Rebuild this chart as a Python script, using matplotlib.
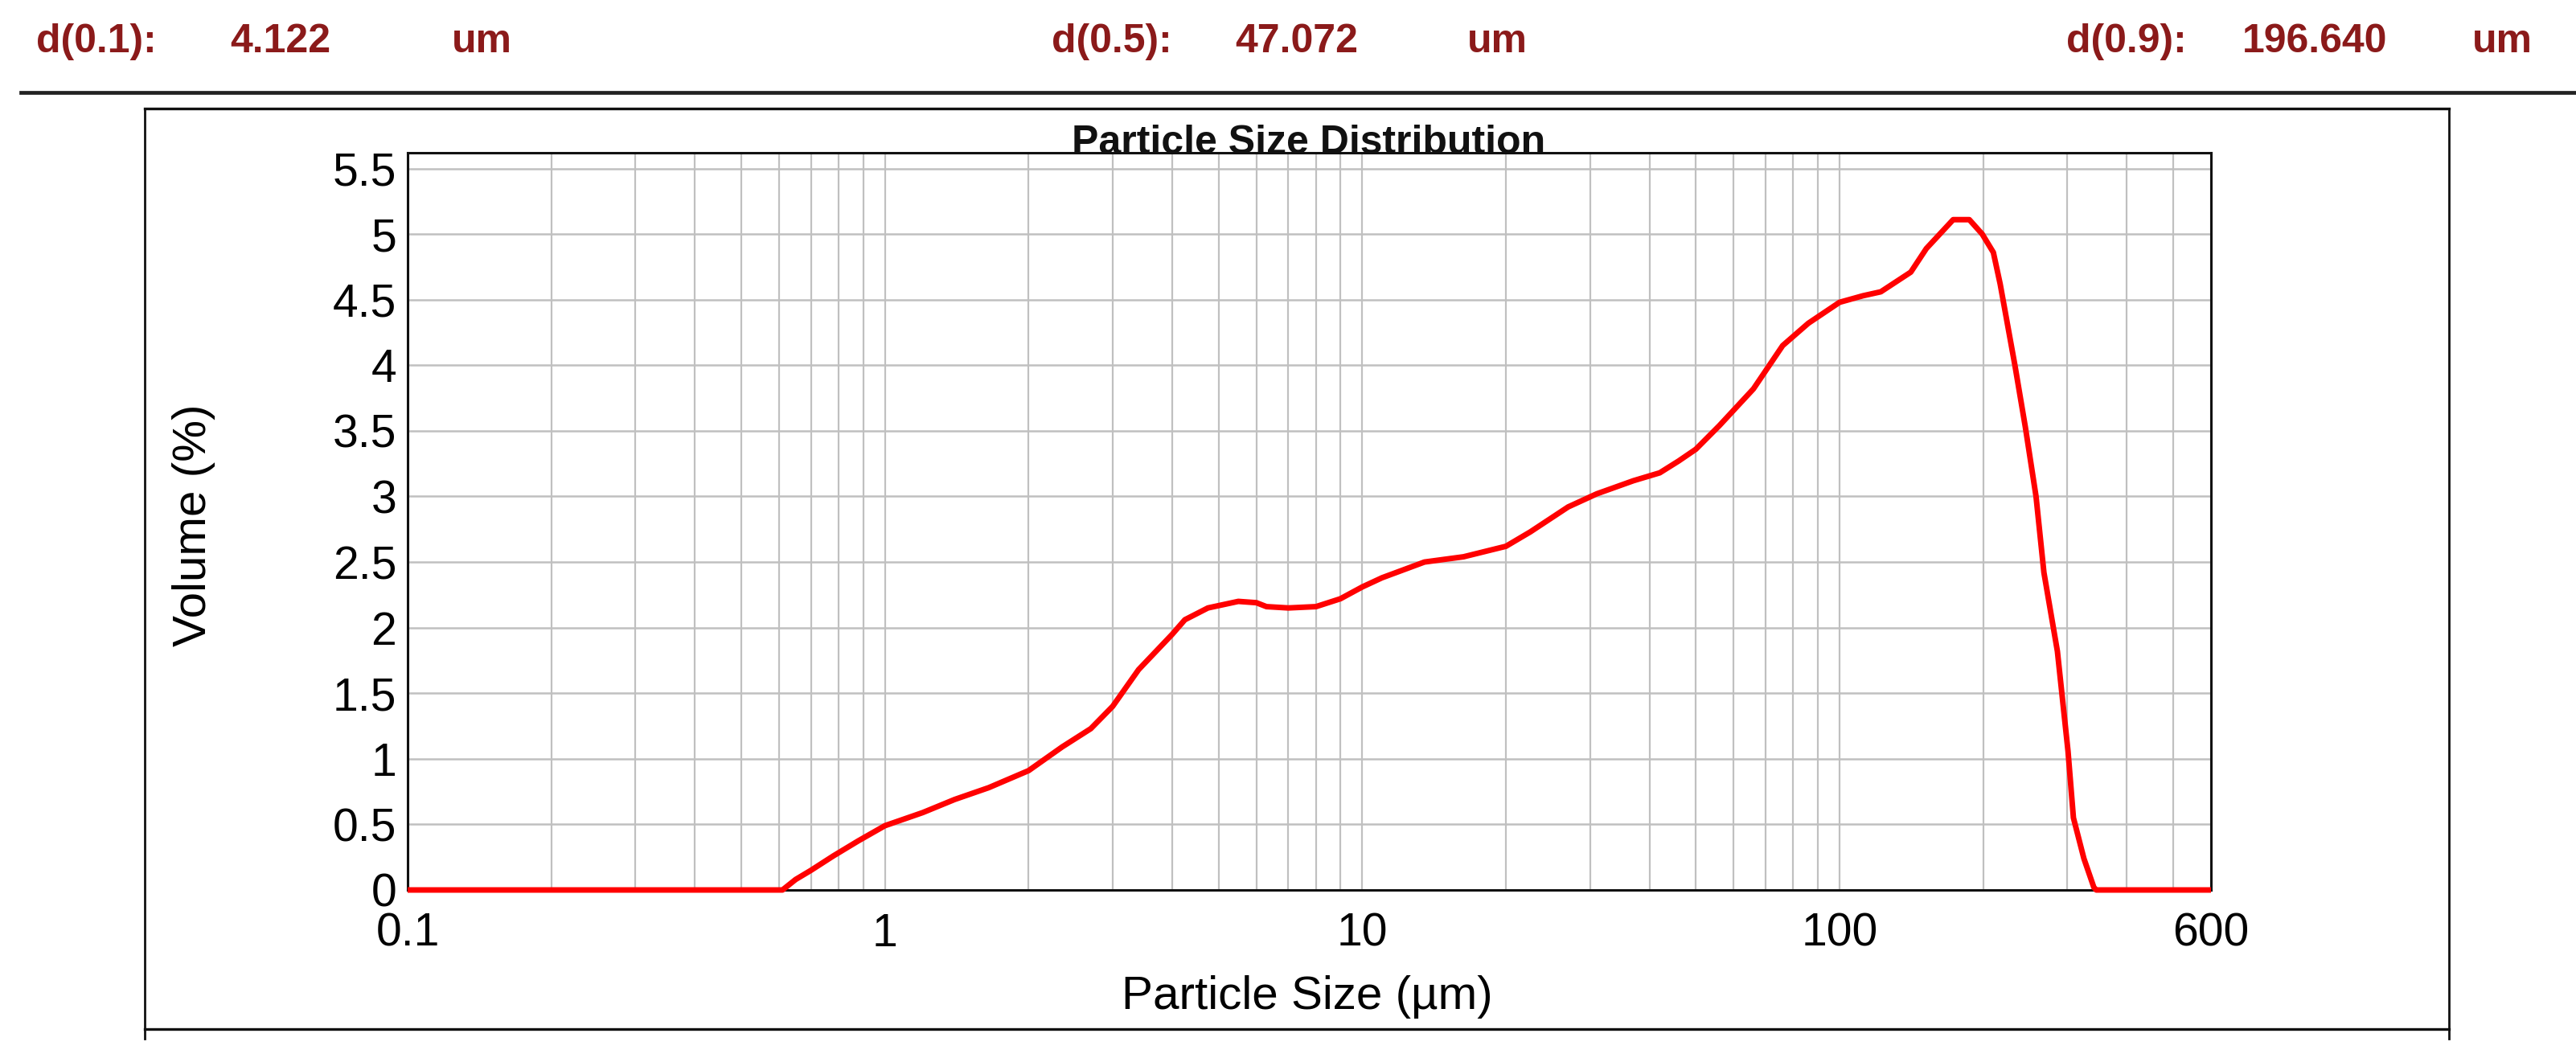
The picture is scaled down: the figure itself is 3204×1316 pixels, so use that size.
import matplotlib
matplotlib.use("Agg")
import matplotlib.pyplot as plt
from matplotlib.lines import Line2D

# ===============================
# DATA
# ===============================
particle_size = [0.1, 0.58, 0.61, 0.65, 0.70, 0.78, 0.88, 1.0, 1.2, 1.4, 1.65,
                 2.0, 2.35, 2.7, 3.0, 3.4, 4.0, 4.25, 4.75, 5.5, 6.0, 6.3, 7.0,
                 8.0, 9.0, 10, 11, 13.5, 16.3, 20, 22.5, 27, 31, 37, 42, 46, 50,
                 56, 66, 76, 86, 100, 112, 122, 141, 152, 173, 187, 199, 210,
                 217, 233, 245, 258, 268, 286, 301, 309, 325, 341, 345, 600]
volume_pct = [0, 0, 0.0, 0.08, 0.15, 0.26, 0.375, 0.49, 0.59, 0.69, 0.78,
              0.91, 1.09, 1.23, 1.40, 1.68, 1.95, 2.06, 2.15, 2.20, 2.19, 2.16, 2.15,
              2.16, 2.22, 2.31, 2.38, 2.50, 2.54, 2.62, 2.73, 2.92, 3.02, 3.12, 3.18, 3.27, 3.36,
              3.54, 3.82, 4.15, 4.32, 4.48, 4.53, 4.56, 4.71, 4.89, 5.11, 5.11, 5.00, 4.86,
              4.62, 4.00, 3.53, 3.00, 2.42, 1.82, 1.06, 0.55, 0.24, 0.02, 0, 0]

x_ticks = [0.1, 1, 10, 100, 600]
x_tick_labels = ["0.1", "1", "10", "100", "600"]
y_ticks = [0, 0.5, 1, 1.5, 2, 2.5, 3, 3.5, 4, 4.5, 5, 5.5]
y_tick_labels = ["0", "0.5", "1", "1.5", "2", "2.5", "3", "3.5", "4", "4.5", "5", "5.5"]

header_labels = ["d(0.1):", "d(0.5):", "d(0.9):"]
header_values = ["4.122", "47.072", "196.640"]
header_unit = "um"

# ===============================
# FIGURE LAYOUT (pixel helpers)
# ===============================
W, H = 3204, 1316
plt.rcParams['font.family'] = ['Liberation Sans', 'DejaVu Sans']
fig = plt.figure(figsize=(W / 100, H / 100), dpi=100)


def fx(px):
    return px / W


def fy(py):
    return 1 - py / H


dark_red = '#8b1a1a'

# header line with d-values
header_x = [(45, 286, 562), (1308, 1536, 1825), (2570, 2789, 3075)]
for lab, val, (x1, x2, x3) in zip(header_labels, header_values, header_x):
    for x, s in [(x1, lab), (x2, val), (x3, header_unit)]:
        fig.text(fx(x), fy(52), s, color=dark_red, fontsize=36,
                 fontweight='bold', va='center', ha='left')

# rule under the header
fig.add_artist(Line2D([fx(26), 1.0], [fy(115), fy(115)], color='#222222', lw=3.4))

# frame around the chart
fig.add_artist(Line2D([fx(180), fx(3046)], [fy(135), fy(135)], color='#111111', lw=2.4))
fig.add_artist(Line2D([fx(180), fx(3046)], [fy(1280), fy(1280)], color='#111111', lw=2.4))
fig.add_artist(Line2D([fx(180), fx(180)], [fy(135), fy(1292)], color='#111111', lw=2.0))
fig.add_artist(Line2D([fx(3046), fx(3046)], [fy(135), fy(1292)], color='#111111', lw=2.0))

# ===============================
# PLOT
# ===============================
ax = fig.add_axes([fx(507), fy(1107), fx(2750) - fx(507), (1107 - 190) / H])
ax.set_facecolor('white')

ax.plot(particle_size, volume_pct, color='#ff0000', lw=5.0, clip_on=False,
        zorder=3, solid_joinstyle='round', solid_capstyle='butt')

ax.set_xscale('log')
ax.set_xlim(0.1, 600)
ax.set_ylim(0, 5.62)

minor_x = [m * 10.0 ** e for e in range(-1, 3) for m in range(2, 10) if m * 10.0 ** e < 600]
ax.set_xticks(x_ticks)
ax.set_xticklabels(x_tick_labels)
ax.set_xticks(minor_x, minor=True)
ax.set_yticks(y_ticks)
ax.set_yticklabels(y_tick_labels)

ax.grid(True, which='both', axis='x', color='#c0c0c0', lw=1.6)
ax.grid(True, which='major', axis='y', color='#c0c0c0', lw=1.8)
ax.set_axisbelow(True)

ax.tick_params(which='both', length=0)
ax.tick_params(axis='y', labelsize=41, pad=10)
ax.tick_params(axis='x', labelsize=41, pad=20)

for sp in ax.spines.values():
    sp.set_color('#111111')
    sp.set_linewidth(2.2)

# title sits just above the plot, partly hidden by it
fig.text(fx(1628), fy(191), "Particle Size Distribution", ha='center', va='baseline',
         fontsize=36, fontweight='bold', color='#111111', zorder=-1)

fig.text(fx(241), fy(653), "Volume (%)", rotation=90, ha='center', va='center', fontsize=42)
fig.text(fx(1626), fy(1240), "Particle Size (µm)", ha='center', va='center', fontsize=42)

fig.savefig("out.png", dpi=100)
plt.close()
